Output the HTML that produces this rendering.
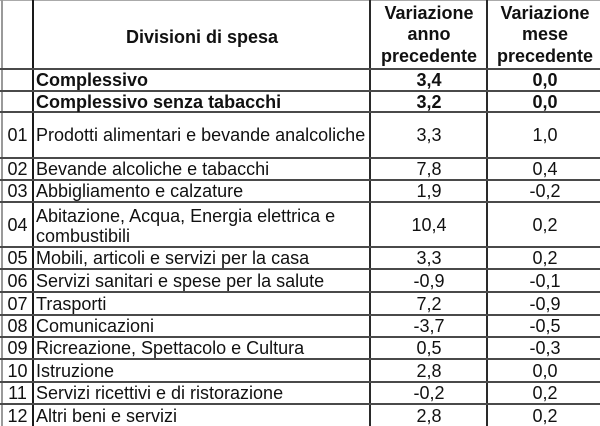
<!DOCTYPE html>
<html>
<head>
<meta charset="utf-8">
<style>
html,body{margin:0;padding:0;background:#fff;}
body{width:600px;height:426px;position:relative;overflow:hidden;font-family:"Liberation Sans",Arial,sans-serif;color:#111;}
.h{position:absolute;left:0;width:600px;height:2px;background:#4a4a4a;}
.v{position:absolute;top:0;height:426px;width:2px;background:#2a2a2a;}
.c{position:absolute;display:flex;align-items:center;font-size:18px;line-height:20px;white-space:nowrap;}
.n{left:2px;width:31px;justify-content:center;}
.t{left:36px;width:330px;}
.a{left:371px;width:116px;justify-content:center;}
.b{left:488px;width:114px;justify-content:center;}
.bold{font-weight:bold;}
.hd{position:absolute;font-weight:bold;font-size:18px;text-align:center;white-space:nowrap;}
</style>
</head>
<body>
<!-- borders -->
<div style="position:absolute;left:0;top:0;width:600px;height:1px;background:#aaa;"></div>
<div class="v" style="left:1px;background:#9a9a9a;"></div>
<div class="v" style="left:32px;background:#1a1a1a;"></div>
<div class="v" style="left:369px;"></div>
<div class="v" style="left:486px;"></div>

<div class="h" style="top:68px;"></div>
<div class="h" style="top:90px;"></div>
<div class="h" style="top:111px;"></div>
<div class="h" style="top:157px;"></div>
<div class="h" style="top:179px;"></div>
<div class="h" style="top:201px;"></div>
<div class="h" style="top:246px;"></div>
<div class="h" style="top:268px;"></div>
<div class="h" style="top:291px;"></div>
<div class="h" style="top:314px;"></div>
<div class="h" style="top:336px;"></div>
<div class="h" style="top:358px;"></div>
<div class="h" style="top:381px;"></div>
<div class="h" style="top:403px;"></div>

<!-- header -->
<div class="hd" style="left:34px;width:336px;top:26.5px;line-height:20px;">Divisioni di spesa</div>
<div class="hd" style="left:371px;width:116px;top:2.5px;line-height:21.5px;">Variazione<br>anno<br>precedente</div>
<div class="hd" style="left:488px;width:114px;top:2.5px;line-height:21.5px;">Variazione<br>mese<br>precedente</div>

<!-- Complessivo -->
<div class="c t bold" style="top:70px;height:20px;">Complessivo</div>
<div class="c a bold" style="top:70px;height:20px;">3,4</div>
<div class="c b bold" style="top:70px;height:20px;">0,0</div>

<!-- Complessivo senza tabacchi -->
<div class="c t bold" style="top:92px;height:19px;">Complessivo senza tabacchi</div>
<div class="c a bold" style="top:92px;height:19px;">3,2</div>
<div class="c b bold" style="top:92px;height:19px;">0,0</div>

<!-- 01 -->
<div class="c n" style="top:113px;height:44px;">01</div>
<div class="c t" style="top:113px;height:44px;">Prodotti alimentari e bevande analcoliche</div>
<div class="c a" style="top:113px;height:44px;">3,3</div>
<div class="c b" style="top:113px;height:44px;">1,0</div>

<!-- 02 -->
<div class="c n" style="top:159px;height:20px;">02</div>
<div class="c t" style="top:159px;height:20px;">Bevande alcoliche e tabacchi</div>
<div class="c a" style="top:159px;height:20px;">7,8</div>
<div class="c b" style="top:159px;height:20px;">0,4</div>

<!-- 03 -->
<div class="c n" style="top:181px;height:20px;">03</div>
<div class="c t" style="top:181px;height:20px;">Abbigliamento e calzature</div>
<div class="c a" style="top:181px;height:20px;">1,9</div>
<div class="c b" style="top:181px;height:20px;">-0,2</div>

<!-- 04 -->
<div class="c n" style="top:203px;height:44px;">04</div>
<div class="c t" style="top:204px;height:44px;">Abitazione, Acqua, Energia elettrica e<br>combustibili</div>
<div class="c a" style="top:203px;height:44px;">10,4</div>
<div class="c b" style="top:203px;height:44px;">0,2</div>

<!-- 05 -->
<div class="c n" style="top:248px;height:20px;">05</div>
<div class="c t" style="top:248px;height:20px;">Mobili, articoli e servizi per la casa</div>
<div class="c a" style="top:248px;height:20px;">3,3</div>
<div class="c b" style="top:248px;height:20px;">0,2</div>

<!-- 06 -->
<div class="c n" style="top:270px;height:21px;">06</div>
<div class="c t" style="top:270px;height:21px;">Servizi sanitari e spese per la salute</div>
<div class="c a" style="top:270px;height:21px;">-0,9</div>
<div class="c b" style="top:270px;height:21px;">-0,1</div>

<!-- 07 -->
<div class="c n" style="top:293px;height:21px;">07</div>
<div class="c t" style="top:293px;height:21px;">Trasporti</div>
<div class="c a" style="top:293px;height:21px;">7,2</div>
<div class="c b" style="top:293px;height:21px;">-0,9</div>

<!-- 08 -->
<div class="c n" style="top:316px;height:20px;">08</div>
<div class="c t" style="top:316px;height:20px;">Comunicazioni</div>
<div class="c a" style="top:316px;height:20px;">-3,7</div>
<div class="c b" style="top:316px;height:20px;">-0,5</div>

<!-- 09 -->
<div class="c n" style="top:338px;height:20px;">09</div>
<div class="c t" style="top:338px;height:20px;">Ricreazione, Spettacolo e Cultura</div>
<div class="c a" style="top:338px;height:20px;">0,5</div>
<div class="c b" style="top:338px;height:20px;">-0,3</div>

<!-- 10 -->
<div class="c n" style="top:360px;height:21px;">10</div>
<div class="c t" style="top:360px;height:21px;">Istruzione</div>
<div class="c a" style="top:360px;height:21px;">2,8</div>
<div class="c b" style="top:360px;height:21px;">0,0</div>

<!-- 11 -->
<div class="c n" style="top:383px;height:20px;">11</div>
<div class="c t" style="top:383px;height:20px;">Servizi ricettivi e di ristorazione</div>
<div class="c a" style="top:383px;height:20px;">-0,2</div>
<div class="c b" style="top:383px;height:20px;">0,2</div>

<!-- 12 -->
<div class="c n" style="top:405px;height:21px;">12</div>
<div class="c t" style="top:405px;height:21px;">Altri beni e servizi</div>
<div class="c a" style="top:405px;height:21px;">2,8</div>
<div class="c b" style="top:405px;height:21px;">0,2</div>
</body>
</html>
